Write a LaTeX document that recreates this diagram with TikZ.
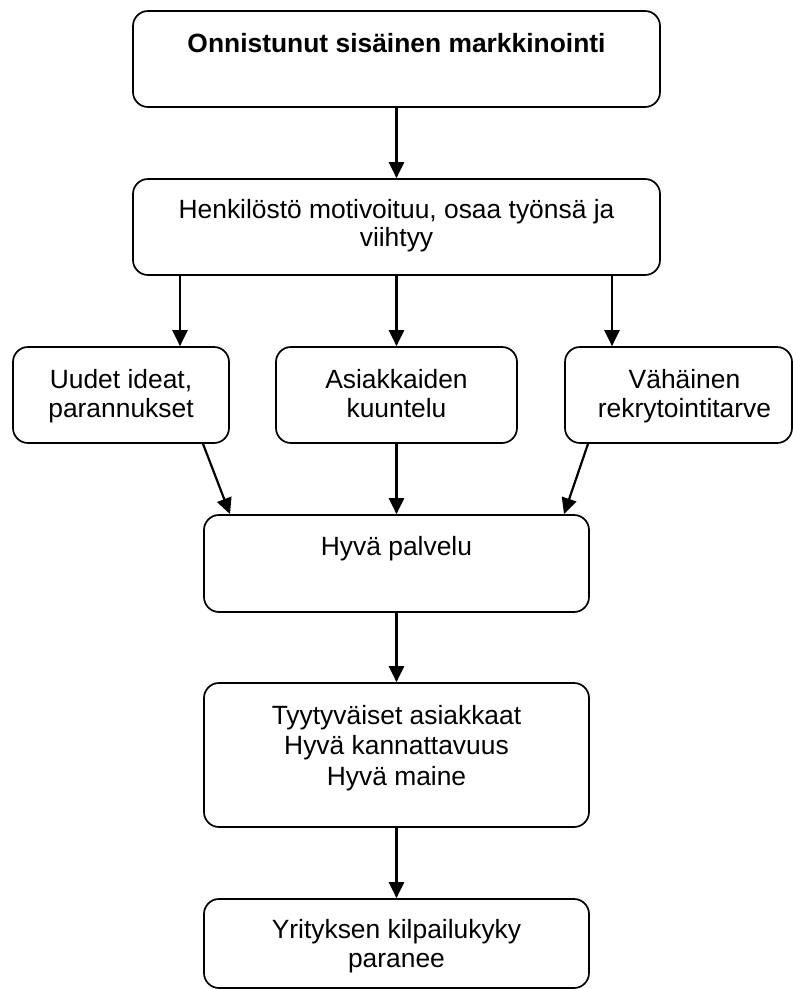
\documentclass[tikz,border=0pt]{standalone}
\usepackage{fontspec}
\setmainfont{Liberation Sans}
\usetikzlibrary{arrows.meta}

\tikzset{
  box/.style={draw=black, line width=1.7pt, rounded corners=15pt,
    inner sep=0pt, fill=white},
  % multi-line texts are placed by the baseline of their last line
  txt/.style={anchor=base, inner sep=0pt, align=center,
    font=\fontsize{26.4}{29}\selectfont},
  arr/.style={line width=2.2pt,
    -{Triangle[width=15pt,length=16pt]}}
}

\begin{document}
\begin{tikzpicture}[x=1pt, y=-1pt]
  \useasboundingbox (0,0) rectangle (793,989);

  % boxes
  \node[box, minimum width=527pt, minimum height=96pt] (b1) at (396.5,59) {};
  \node[box, minimum width=527pt, minimum height=96pt] (b2) at (396.5,227) {};
  \node[box, minimum width=216pt, minimum height=96pt] (b3a) at (121,395) {};
  \node[box, minimum width=241pt, minimum height=96pt] (b3b) at (396.5,395) {};
  \node[box, minimum width=227pt, minimum height=96pt] (b3c) at (678.5,395) {};
  \node[box, minimum width=385pt, minimum height=97pt] (b4) at (396.5,563.5) {};
  \node[box, minimum width=385pt, minimum height=144pt] (b5) at (396.5,755) {};
  \node[box, minimum width=385pt, minimum height=89pt] (b6) at (396.5,943.5) {};

  % texts
  \node[txt, font=\bfseries\fontsize{26.4}{29}\selectfont] (t1) at (396.5,52)
    {Onnistunut sisäinen markkinointi};
  \node[txt, font=\fontsize{26.4}{28}\selectfont] (t2) at (396.5,246)
    {Henkilöstö motivoituu, osaa työnsä ja\\viihtyy};
  \node[txt] (t3a) at (121,417) {Uudet ideat,\\parannukset};
  \node[txt] (t3b) at (396.5,417) {Asiakkaiden\\kuuntelu};
  \node[txt] (t3c) at (684.5,417) {Vähäinen\\rekrytointitarve};
  \node[txt] (t4) at (396.5,555) {Hyvä palvelu};
  \node[txt, font=\fontsize{26.4}{30.5}\selectfont] (t5) at (396.5,785)
    {Tyytyväiset asiakkaat\\Hyvä kannattavuus\\Hyvä maine};
  \node[txt] (t6) at (396.5,967) {Yrityksen kilpailukyky\\paranee};

  % connectors
  \draw[arr] (b1.south) -- (b2.north);
  \draw[arr] (b2.south -| 180,0) -- (b3a.north -| 180,0);
  \draw[arr] (b2.south) -- (b3b.north);
  \draw[arr] (b2.south -| 612,0) -- (b3c.north -| 612,0);
  \draw[arr] (b3a.south -| 203,0) -- (b4.north -| 230,0);
  \draw[arr] (b3b.south) -- (b4.north);
  \draw[arr] (b3c.south -| 588,0) -- (b4.north -| 564,0);
  \draw[arr] (b4.south) -- (b5.north);
  \draw[arr] (b5.south) -- (b6.north);
\end{tikzpicture}
\end{document}
